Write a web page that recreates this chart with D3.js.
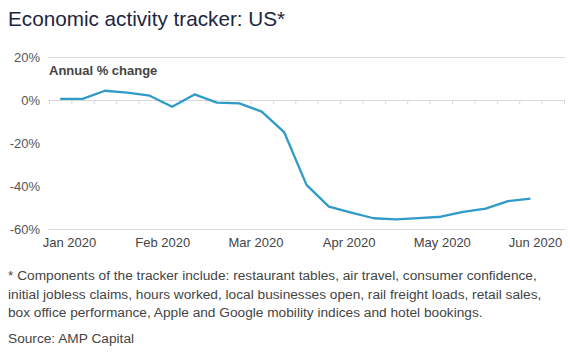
<!DOCTYPE html>
<html>
<head>
<meta charset="utf-8">
<script src="https://cdn.jsdelivr.net/npm/d3@7"></script>
<style>
  html, body { margin: 0; padding: 0; background: #fff; }
  svg { display: block; font-family: "Liberation Sans", Arial, sans-serif; }
</style>
</head>
<body>
<svg id="chart" width="570" height="360"></svg>
<script>
// ---- data ----
const weekIndex = d3.range(22);
const activity = [0.5, 0.5, 4.3, 3.4, 2.0, -3.1, 2.6, -1.2, -1.6, -5.4, -14.9, -39.5, -49.6, -52.4, -55.0, -55.5, -54.9, -54.3, -52.0, -50.5, -47.0, -45.9];
const monthLabels = ["Jan 2020", "Feb 2020", "Mar 2020", "Apr 2020", "May 2020", "Jun 2020"];
const yTicks = [20, 0, -20, -40, -60];
const gridValues = [20, -60];
const slotCount = 23;

const titleText = "Economic activity tracker: US*";
const unitText = "Annual % change";
const footnoteLines = [
  "* Components of the tracker include: restaurant tables, air travel, consumer confidence,",
  "initial jobless claims, hours worked, local businesses open, rail freight loads, retail sales,",
  "box office performance, Apple and Google mobility indices and hotel bookings."
];
const sourceText = "Source: AMP Capital";

// ---- layout ----
const svg = d3.select("#chart");
const plotL = 49, plotR = 564, plotT = 57, plotB = 229;

const x = d3.scaleLinear().domain([0, slotCount]).range([plotL, plotR]);
const xMonths = d3.scalePoint().domain(monthLabels).range([69, 535]);
const y = d3.scaleLinear().domain([-60, 20]).range([plotB, plotT]);

// title
svg.append("text")
  .attr("x", 8).attr("y", 26)
  .attr("font-size", 20.7)
  .attr("fill", "#1c2541")
  .text(titleText);

// grid lines (top and bottom)
svg.selectAll("line.grid").data(gridValues).enter().append("line")
  .attr("class", "grid")
  .attr("x1", plotL - 1).attr("x2", plotR + 1)
  .attr("y1", d => y(d) + 0.5).attr("y2", d => y(d) + 0.5)
  .attr("stroke", "#d9d9d9").attr("stroke-width", 1);

// zero axis with ticks
const zeroAxis = d3.axisBottom(x)
  .tickValues(d3.range(0, slotCount + 1))
  .tickSize(4)
  .tickFormat("");
const za = svg.append("g").attr("transform", `translate(0,${y(0)})`).call(zeroAxis);
za.select(".domain").attr("stroke", "#d9d9d9").attr("d", `M${plotL - 1},0.5H${plotR + 1}`);
za.selectAll(".tick line").attr("stroke", "#d9d9d9");

// y axis labels
const yAxis = d3.axisLeft(y).tickValues(yTicks).tickSize(0).tickPadding(0)
  .tickFormat(d => d + "%");
const ya = svg.append("g").attr("transform", `translate(40,0)`).call(yAxis);
ya.select(".domain").remove();
ya.selectAll("text").attr("font-size", 13).attr("fill", "#555")
  .attr("font-family", "Liberation Sans, Arial, sans-serif");

// x month labels
const xAxis = d3.axisBottom(xMonths).tickSize(0).tickPadding(0);
const xa = svg.append("g").attr("transform", `translate(0,${plotB + 9})`).call(xAxis);
xa.select(".domain").remove();
xa.selectAll("text").attr("font-size", 13).attr("fill", "#444")
  .attr("font-family", "Liberation Sans, Arial, sans-serif");

// unit label
svg.append("text")
  .attr("x", plotL).attr("y", 75)
  .attr("font-size", 13).attr("font-weight", "bold")
  .attr("fill", "#444")
  .text(unitText);

// line
const line = d3.line()
  .x((d, i) => x(weekIndex[i] + 0.5))
  .y(d => y(d));
svg.append("path")
  .datum(activity)
  .attr("d", line)
  .attr("fill", "none")
  .attr("stroke", "#2f9bc6")
  .attr("stroke-width", 2.3)
  .attr("stroke-linejoin", "round");

// footnote
svg.selectAll("text.foot").data(footnoteLines).enter().append("text")
  .attr("class", "foot")
  .attr("x", 8).attr("y", (d, i) => 280 + i * 18.5)
  .attr("font-size", 13.7).attr("fill", "#444")
  .text(d => d);

svg.append("text")
  .attr("x", 8).attr("y", 343)
  .attr("font-size", 13.7).attr("fill", "#444")
  .text(sourceText);
</script>
</body>
</html>
